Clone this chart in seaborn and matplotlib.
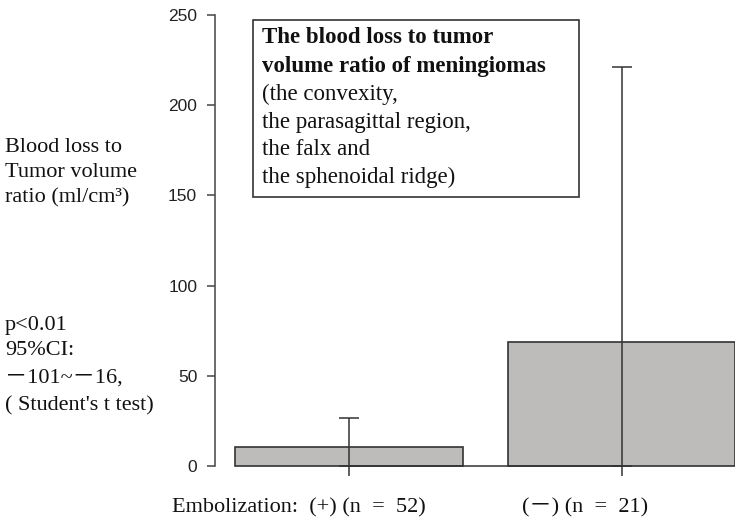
import pandas as pd
import matplotlib
matplotlib.use("Agg")
import matplotlib.pyplot as plt
import seaborn as sns
from matplotlib.patches import Rectangle

# Datos
grupos = ["(+)", "(－)"]
ratio_medio = [10.5, 69.0]
error_sup = [16.3, 152.0]
n_casos = [52, 21]
yticks = [0, 50, 100, 150, 200, 250]

df = pd.DataFrame({"grupo": grupos, "ratio": ratio_medio})

sns.set_style("white")
serif = ["Liberation Serif", "Noto Sans CJK JP", "DejaVu Serif"]

W, H = 746, 527
fig = plt.figure(figsize=(W / 100, H / 100), dpi=100)
ax = fig.add_axes([215 / W, (H - 476) / H, (735 - 215) / W, (476 - 15) / H])

sns.barplot(data=df, x="grupo", y="ratio", color="#bebbbb", edgecolor="#333333",
            linewidth=1.2, width=1 / 1.2, errorbar=None, saturation=1, ax=ax)
# Barras de error (solo hacia arriba)
ax.errorbar(x=range(len(grupos)), y=ratio_medio, yerr=[ratio_medio, error_sup],
            fmt="none", ecolor="#333333", elinewidth=1.1, capsize=7.2, capthick=1.1)

ax.set_xlim(-134 / 272.5, 1 + (735 - 621.5) / 272.5)
ax.set_ylim(-5.5, 250)
ax.set_yticks(yticks)
ax.set_xlabel("")
ax.set_ylabel("")
ax.set_xticklabels([])

for s in ["top", "right"]:
    ax.spines[s].set_visible(False)
ax.spines["left"].set_bounds(0, 250)
ax.spines["left"].set_color("#444444")
ax.spines["left"].set_linewidth(1.1)
ax.spines["bottom"].set_position(("data", 0))
ax.spines["bottom"].set_bounds(0, 1)
ax.spines["bottom"].set_color("#333333")
ax.spines["bottom"].set_linewidth(1.1)
ax.tick_params(axis="y", left=True, direction="out", length=5.8, width=1.1, color="#444444",
               pad=7, labelsize=12.5, labelcolor="#222222")
ax.tick_params(axis="x", bottom=True, direction="out", length=7.2, width=1.1, color="#333333")
for lab in ax.get_yticklabels():
    lab.set_fontfamily("Liberation Sans")


def txt(x, y, s, **kw):
    fig.text(x / W, 1 - y / H, s, va="baseline", ha="left", family=serif,
             color="#111111", **kw)


# Cuadro de titulo
fig.patches.append(Rectangle((253 / W, 1 - 197 / H), (579 - 253) / W, (197 - 20) / H,
                             transform=fig.transFigure, fill=False,
                             edgecolor="#333333", linewidth=1.2))
txt(262, 43, "The blood loss to tumor", fontsize=16.5, fontweight="bold")
txt(262, 72, "volume ratio of meningiomas", fontsize=16.5, fontweight="bold")
for yy, linea in zip([100, 128, 155, 183], ["(the convexity,", "the parasagittal region,",
                                            "the falx and", "the sphenoidal ridge)"]):
    txt(262, yy, linea, fontsize=16.5)

# Textos de la izquierda
for yy, linea in zip([152, 177, 202], ["Blood loss to", "Tumor volume", "ratio (ml/cm³)"]):
    txt(5, yy, linea, fontsize=16)
for yy, linea in zip([330, 355, 383, 410], ["p<0.01", "95%CI:", "－101~－16,",
                                            "( Student's t test)"]):
    txt(5, yy, linea, fontsize=16)

# Etiquetas de grupos
txt(172, 512, f"Embolization:  {grupos[0]} (n  =  {n_casos[0]})", fontsize=16)
txt(522, 512, f"{grupos[1]} (n  =  {n_casos[1]})", fontsize=16)

fig.savefig("out.png", dpi=100)
